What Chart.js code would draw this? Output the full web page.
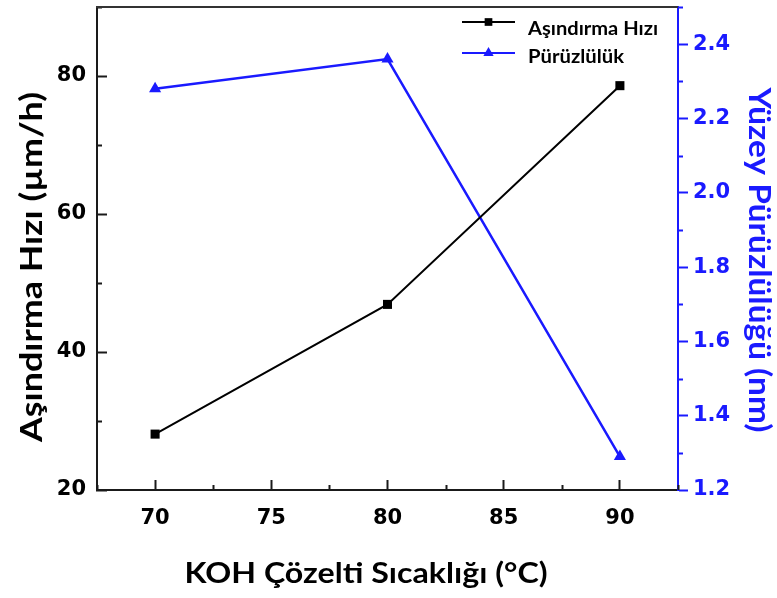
<!DOCTYPE html>
<html>
<head>
<meta charset="utf-8">
<script src="https://cdn.jsdelivr.net/npm/chart.js@4.4.0/dist/chart.umd.min.js"></script>
<style>
  body { margin: 0; background: #fff; }
  canvas { display: block; }
</style>
</head>
<body>
<canvas id="chart" width="777" height="598"></canvas>
<script>
// KOH temperature vs etch rate and surface roughness
const temps = [70, 80, 90]
const etchRate = [28.1, 46.9, 78.6]
const roughness = [2.28, 2.36, 1.29]
const tempTicks = [70, 75, 80, 85, 90]
const rateTicks = [20, 40, 60, 80]
const roughTicks = [1.2, 1.4, 1.6, 1.8, 2.0, 2.2, 2.4]

const BLUE = '#1a1aff'
const INK = '#1a1a1a'
const TICK_FONT = { family: 'DejaVu Sans', size: 21, weight: 'bold' }

const fixTicks = list => scale => { scale.ticks = list.map(v => ({ value: v })) }
const fixSize = (w, h) => scale => {
  if (w) scale.width = w
  if (h) scale.height = h
  scale.paddingLeft = scale.paddingRight = scale.paddingTop = scale.paddingBottom = 0
}

// text squeezed or stretched along its run to a given length
const fitText = (ctx, text, x, y, angle, length, font) => {
  ctx.save()
  ctx.font = font
  const w = ctx.measureText(text).width
  ctx.translate(x, y)
  ctx.rotate(angle)
  ctx.scale(length / w, 1)
  ctx.textAlign = 'left'
  ctx.fillText(text, -w / 2, 0)
  ctx.restore()
}

// short half-step ticks, plus the top frame line
const frame = {
  id: 'frame',
  afterDraw (chart) {
    const { ctx, chartArea: a, scales } = chart
    const minor = (scale, color) => {
      const vals = scale.ticks.map(t => t.value)
      const step = vals[1] - vals[0]
      ctx.save()
      ctx.strokeStyle = color
      ctx.lineWidth = 2
      ctx.beginPath()
      for (let v = vals[0] - step / 2; v <= scale.max + 1e-9; v += step) {
        if (v < scale.min - 1e-9) continue
        const p = Math.round(scale.getPixelForValue(v)) + 0.5
        if (scale.axis === 'x') { ctx.moveTo(p, a.bottom); ctx.lineTo(p, a.bottom - 5) }
        else if (scale.position === 'left') { ctx.moveTo(a.left, p); ctx.lineTo(a.left + 5, p) }
        else { ctx.moveTo(a.right, p); ctx.lineTo(a.right + 5, p) }
      }
      ctx.stroke()
      ctx.restore()
    }
    minor(scales.x, INK)
    minor(scales.y, INK)
    minor(scales.y1, BLUE)

    ctx.save()
    ctx.strokeStyle = '#333'
    ctx.lineWidth = 2
    ctx.beginPath()
    ctx.moveTo(a.left - 1, a.top)
    ctx.lineTo(a.right, a.top)
    ctx.stroke()
    ctx.restore()
  }
}

// axis titles and the in-plot legend
const labels = {
  id: 'labels',
  afterDraw (chart) {
    const ctx = chart.ctx
    ctx.save()
    ctx.textBaseline = 'alphabetic'

    ctx.fillStyle = '#000'
    fitText(ctx, 'KOH Çözelti Sıcaklığı (°C)', 366, 583, 0, 363, 'bold 28px Lato')
    // baseline sits right of the glyph centre when rotated
    fitText(ctx, 'Aşındırma Hızı (µm/h)', 42, 267, -Math.PI / 2, 350, 'bold 31px Lato')
    ctx.fillStyle = BLUE
    fitText(ctx, 'Yüzey Pürüzlülüğü (nm)', 749, 260, Math.PI / 2, 345, 'bold 31px Lato')

    const lx = 462, ly = 22, gap = 31
    chart.data.datasets.forEach((ds, i) => {
      const y = ly + i * gap
      ctx.strokeStyle = ds.borderColor
      ctx.fillStyle = ds.borderColor
      ctx.lineWidth = 2
      ctx.beginPath()
      ctx.moveTo(lx, y)
      ctx.lineTo(lx + 53, y)
      ctx.stroke()
      Chart.helpers.drawPoint(ctx, { pointStyle: ds.pointStyle, radius: ds.pointRadius * 0.85, borderWidth: 0, rotation: 0 }, lx + 26.5, y)
      ctx.fillStyle = '#000'
      const w = i === 0 ? 130 : 96
      fitText(ctx, ds.label, lx + 66 + w / 2, y + 13 - i * 3, 0, w, 'bold 19px Lato')
    })
    ctx.restore()
  }
}

new Chart(document.getElementById('chart'), {
  type: 'line',
  data: {
    datasets: [
      {
        label: 'Aşındırma Hızı',
        data: temps.map((t, i) => ({ x: t, y: etchRate[i] })),
        yAxisID: 'y',
        borderColor: '#000',
        backgroundColor: '#000',
        borderWidth: 2,
        pointStyle: 'rect',
        pointRadius: 6.4,
        pointBorderWidth: 0
      },
      {
        label: 'Pürüzlülük',
        data: temps.map((t, i) => ({ x: t, y: roughness[i] })),
        yAxisID: 'y1',
        borderColor: BLUE,
        backgroundColor: BLUE,
        borderWidth: 2.5,
        pointStyle: 'triangle',
        pointRadius: 7,
        pointBorderWidth: 0
      }
    ]
  },
  options: {
    responsive: false,
    devicePixelRatio: 1,
    animation: false,
    layout: { padding: { top: 5, left: 0, right: 0, bottom: 0 } },
    plugins: { legend: { display: false }, tooltip: { enabled: false } },
    scales: {
      x: {
        type: 'linear',
        min: 67.5,
        max: 92.5,
        afterBuildTicks: fixTicks(tempTicks),
        afterFit: fixSize(0, 108),
        border: { color: INK, width: 2 },
        grid: { drawOnChartArea: false, tickLength: -10, color: INK, tickWidth: 2 },
        ticks: { font: TICK_FONT, color: '#000', padding: 26, maxRotation: 0 }
      },
      y: {
        position: 'left',
        min: 20,
        max: 90,
        afterBuildTicks: fixTicks(rateTicks),
        afterFit: fixSize(97, 0),
        border: { color: INK, width: 2 },
        grid: { drawOnChartArea: false, tickLength: -10, color: INK, tickWidth: 2 },
        ticks: { font: TICK_FONT, color: '#000', padding: 21 }
      },
      y1: {
        position: 'right',
        min: 1.2,
        max: 2.5,
        afterBuildTicks: fixTicks(roughTicks),
        afterFit: fixSize(99, 0),
        border: { color: BLUE, width: 2 },
        grid: { drawOnChartArea: false, tickLength: 10, color: BLUE, tickWidth: 2 },
        ticks: { font: TICK_FONT, color: BLUE, padding: 5, callback: v => v.toFixed(1) }
      }
    }
  },
  plugins: [frame, labels]
})
</script>
</body>
</html>
